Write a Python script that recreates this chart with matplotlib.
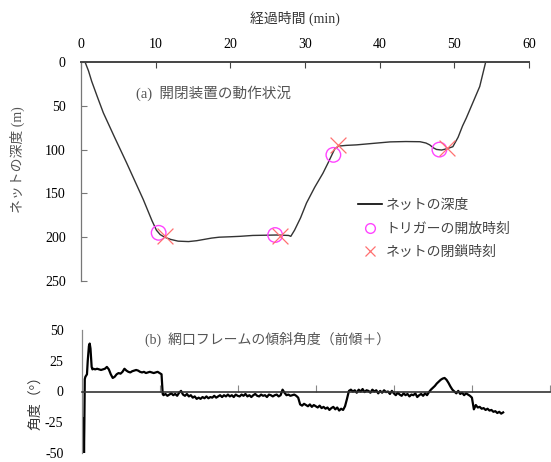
import matplotlib
matplotlib.use("Agg")
import matplotlib.pyplot as plt
from matplotlib.lines import Line2D

plt.rcParams['font.family'] = ['Liberation Serif', 'Noto Sans CJK JP']
plt.rcParams['axes.unicode_minus'] = False

# ---------------- data ----------------
depth_time = [0.54, 1.0, 1.43, 2.2, 2.99, 4.5, 6.1, 8.34, 9.5, 10.1, 10.6, 11.2, 12.0, 13.0,
              14.4, 15.5, 16.5, 17.5, 18.5, 20.0, 21.3, 23.0, 26.2, 27.8, 28.1, 28.6, 29.4,
              30.2, 31.3, 32.4, 33.1, 33.6, 34.0, 34.5, 35.5, 36.9, 39.0, 41.4, 43.5, 45.4,
              46.2, 46.7, 47.2, 47.6, 48.3, 49.0, 49.8, 50.5, 51.1, 51.6, 52.2, 52.8, 53.4,
              53.8, 54.2]
depth_m = [0, 10, 22, 40, 58, 86, 115, 157, 181, 192, 197, 200, 202.5, 204.5,
           205, 204, 202.5, 201, 200, 199.5, 199, 198, 197.5, 198, 199, 192, 178,
           161, 143, 127, 115, 106, 99, 96, 95.2, 94.6, 93, 91.2, 90.8, 91,
           92.5, 94.6, 98, 99.8, 100.5, 99, 96.7, 86, 73, 64, 52, 40, 28,
           14, 0]

open_time = [10.4, 26.0, 33.8, 48.0]
open_depth = [195, 197.5, 106, 100]
close_time = [11.2, 26.6, 34.4, 49.0]
close_depth = [199, 199, 95, 98.5]

angle_time = [0.0, 0.1, 0.2, 0.28, 0.32, 0.36, 0.42, 0.5, 0.6, 0.7, 0.8, 0.95, 1.05, 1.15, 1.3, 1.4,
              1.5, 1.75, 2.0, 2.25, 2.5, 2.75, 3.0, 3.25, 3.5, 3.75, 4.0, 4.25, 4.5, 4.75, 5.0, 5.25,
              5.5, 5.75, 6.0, 6.25, 6.5, 6.75, 7.0, 7.25, 7.5, 7.75, 8.0, 8.25, 8.5, 8.75, 9.0, 9.25,
              9.5, 9.75, 10.0, 10.25, 10.4,
              10.5, 10.75, 11.0, 11.25, 11.5, 11.75, 12.0, 12.25, 12.5, 12.75, 13.0, 13.25, 13.5, 13.75,
              14.0, 14.25, 14.5, 14.75, 15.0, 15.25, 15.5, 15.75, 16.0, 16.25, 16.5, 16.75, 17.0, 17.25,
              17.5, 17.75, 18.0, 18.25, 18.5, 18.75, 19.0,
              19.25, 19.5, 19.75, 20.0, 20.25, 20.5, 20.75, 21.0, 21.25, 21.5, 21.75, 22.0, 22.25, 22.5,
              22.75, 23.0, 23.25, 23.5, 23.75, 24.0, 24.25, 24.5, 24.75, 25.0, 25.25, 25.5,
              25.75, 26.0, 26.25, 26.5, 26.75, 27.0, 27.25, 27.5, 27.75,
              28.0, 28.25, 28.5, 28.75, 29.0, 29.25, 29.5, 29.75, 30.0, 30.25, 30.5, 30.75, 31.0, 31.25,
              31.5, 31.75, 32.0, 32.25, 32.5, 32.75, 33.0, 33.25, 33.5, 33.75,
              34.0, 34.25, 34.5, 34.75, 35.0, 35.25, 35.5, 35.75, 36.0, 36.25, 36.5, 36.75, 37.0, 37.25,
              37.5, 37.75, 38.0, 38.25, 38.5, 38.75, 39.0, 39.25, 39.5,
              39.75, 40.0, 40.25, 40.5, 40.75, 41.0, 41.25, 41.5, 41.75, 42.0, 42.25, 42.5, 42.75, 43.0,
              43.25, 43.5, 43.75, 44.0, 44.25, 44.5, 44.75, 45.0, 45.25, 45.5, 45.75, 46.0, 46.25, 46.5,
              46.75, 47.0, 47.25, 47.5, 47.75, 48.0, 48.25, 48.5, 48.75, 49.0, 49.25, 49.5, 49.75, 50.0,
              50.25, 50.5, 50.75, 51.0, 51.25, 51.5, 51.75, 52.0, 52.25, 52.5, 52.75, 53.0, 53.25, 53.5,
              53.75, 54.0]
angle_deg = [-40, -33, -25, -22, -50, -30, 10, 12, 13, 14, 25, 37, 39, 35, 20, 18,
             18.5, 18, 18.5, 18, 17.5, 18, 18.5, 20, 18, 14, 11, 12, 14, 15, 14.5, 16,
             18.5, 17, 16, 15.5, 16.5, 17, 17.5, 17, 16, 15.5, 16, 15, 15.5, 16, 15.5, 15,
             15.5, 16, 15, 14, -2,
             -3, -2, -3.5, -2.5, -1.5, -3, -2, -3.5, -1, 0.5, -2.5, -3.5, -2, -4,
             -3, -5, -4, -6, -5, -6, -4.5, -5.5, -4, -5.5, -4.5, -5, -3.5, -5,
             -4, -3, -4.5, -3, -4, -2.5, -4,
             -3, -4.5, -2.5, -3.5, -4, -2.5, -3.5, -2, -4, -3, -4.5, -3, -2, -3.5,
             -4, -2.5, -3.5, -3, -4.5, -2.5, -3, -4, -3, -2.5, -4, -3,
             1.5, -1, -3, -2.5, -3.5, -3, -2.5, -3.5, -5,
             -10.5, -11.5, -10, -11, -12, -10.5, -12.5, -11, -12, -13, -11.5, -13.5, -12.5, -14,
             -13, -15, -13.5, -12.5, -14.5, -13, -15.5, -14, -15, -12,
             -6, 0.5, 1.5, 0, 1, -1, 1.5, 0, 2, -0.5, 1, 0.5, -1, 1.5,
             0, 1, -1.5, 0.5, -1, 1, -0.5, 0, -2,
             0.5, -1.5, -3, -1, -2.5, -3.5, -1.5, -3, -2, -4, -2.5, -3, -1.5, -4.5,
             -3, -2, -3.5, -1.5, -3, -0.5, 1.5, 3, 4.5, 6.5, 8, 9.5, 10.5, 11,
             9.5, 7, 4, 1.5, 0, -1.5, 0.5, -2, -1, -3, -1.5, -2.5, -3.5, -5,
             -14.5, -11, -13, -12.5, -14, -13.5, -15, -14, -15.5, -15, -16.5, -16, -17.5, -16.5,
             -18, -17]

depth_ticks = [0, 50, 100, 150, 200, 250]
time_ticks = [0, 10, 20, 30, 40, 50, 60]
angle_ticks = [-50, -25, 0, 25, 50]
angle_ticklabels = ['-50', '-25', '0', '25', '50']

legend_labels = ['ネットの深度', 'トリガーの開放時刻', 'ネットの閉鎖時刻']

W, H = 551, 462
fig = plt.figure(figsize=(W / 100, H / 100), dpi=100)

# ---------------- top panel ----------------
ax1 = fig.add_axes([81 / W, 1 - 281 / H, 448 / W, 219 / H])
ax1.plot(depth_time, depth_m, color='#333333', lw=1.0)
ax1.scatter(open_time, open_depth, s=110, facecolors='none', edgecolors='#ff44ff', linewidths=1.0, zorder=3)
ax1.scatter(close_time, close_depth, s=130, marker='x', color='#ff7070', linewidths=0.9, zorder=3)
ax1.set_xlim(0, 60)
ax1.set_ylim(250, 0)
ax1.xaxis.tick_top()
ax1.set_xticks(time_ticks)
ax1.set_yticks(depth_ticks)
for s in ['right', 'bottom']:
    ax1.spines[s].set_visible(False)
ax1.spines['top'].set_color('#444444')
ax1.spines['top'].set_linewidth(1.4)
ax1.spines['left'].set_color('#777777')
ax1.spines['left'].set_linewidth(0.9)
ax1.tick_params(axis='x', direction='in', length=4, pad=8, labelsize=10, color='#444444')
ax1.tick_params(axis='y', direction='in', length=4, pad=11, labelsize=10, color='#777777')

handles = [Line2D([], [], color='black', lw=1.2),
           Line2D([], [], marker='o', ls='', mfc='none', mec='#ff44ff', ms=7, mew=1.0),
           Line2D([], [], marker='x', ls='', color='#ff7070', ms=7, mew=0.9)]
leg = ax1.legend(handles, legend_labels, loc='upper left', bbox_to_anchor=(358 / W, 1 - 199 / H),
                 bbox_transform=fig.transFigure, frameon=False, fontsize=10, handlelength=1.7,
                 handletextpad=0.3, labelspacing=0.75, borderpad=0, borderaxespad=0)
for t in leg.get_texts():
    t.set_color('#444444')

fig.text(136 / W, 1 - 93 / H, '(a)  開閉装置の動作状況', fontsize=10.5, color='#555555', va='center')
fig.text(295 / W, 1 - 18 / H, '経過時間 (min)', fontsize=10, color='#333333', ha='center', va='center')
fig.text(17 / W, 1 - 160 / H, 'ネットの深度 (m)', fontsize=10, color='#555555', rotation=90,
         ha='center', va='center')

# ---------------- bottom panel ----------------
ax2 = fig.add_axes([81.5 / W, 1 - 453 / H, 468.5 / W, 123 / H])
ax2.plot(angle_time, angle_deg, color='black', lw=1.6)
ax2.set_xlim(0, 60)
ax2.set_ylim(-50, 50)
ax2.spines['bottom'].set_position(('data', 0))
ax2.spines['bottom'].set_color('#333333')
ax2.spines['bottom'].set_linewidth(1.2)
ax2.spines['left'].set_color('#888888')
ax2.spines['left'].set_linewidth(0.9)
for s in ['right', 'top']:
    ax2.spines[s].set_visible(False)
ax2.set_xticks(time_ticks[1:])
ax2.set_xticklabels([])
ax2.tick_params(axis='x', direction='in', length=5, color='#888888')
ax2.set_yticks(angle_ticks)
ax2.set_yticklabels(angle_ticklabels)
ax2.tick_params(axis='y', length=0, pad=13, labelsize=10)

fig.text(145 / W, 1 - 339 / H, '(b)  網口フレームの傾斜角度（前傾＋）', fontsize=10, color='#555555', va='center')
fig.text(36 / W, 1 - 400 / H, '角度（°）', fontsize=10, color='#333333', rotation=90,
         ha='center', va='center')

fig.savefig('out.png', dpi=100)
